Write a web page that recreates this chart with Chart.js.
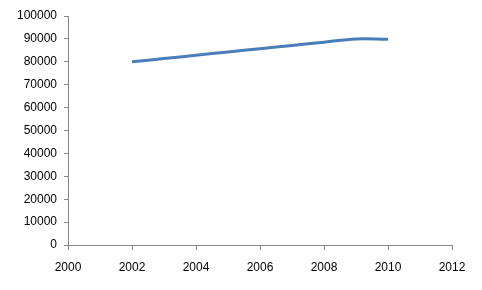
<!DOCTYPE html>
<html>
<head>
<meta charset="utf-8">
<script src="https://cdn.jsdelivr.net/npm/chart.js@4/dist/chart.umd.min.js"></script>
<style>
  html, body { margin: 0; padding: 0; background: #fff; }
  #wrap { width: 482px; height: 290px; }
</style>
</head>
<body>
<div id="wrap"><canvas id="lineChart"></canvas></div>
<script>
// Values
const years = [2002, 2003, 2004, 2005, 2006, 2007, 2008, 2009, 2010];
const values = [80000, 81430, 82860, 84290, 85710, 87140, 88570, 90000, 89800];
const xTicks = [2000, 2002, 2004, 2006, 2008, 2010, 2012];
const yTicks = [0, 10000, 20000, 30000, 40000, 50000, 60000, 70000, 80000, 90000, 100000];

const axisColor = '#868686';
const labelFont = { family: 'Liberation Sans', size: 12 };

const ctx = document.getElementById('lineChart');
new Chart(ctx, {
    type: 'line',
    data: {
        datasets: [{
            data: years.map((y, i) => ({ x: y, y: values[i] })),
            borderColor: '#4a7ebb',
            borderWidth: 3,
            pointRadius: 0,
            tension: 0.4,
            fill: false
        }]
    },
    options: {
        responsive: true,
        maintainAspectRatio: false,
        animation: false,
        layout: { padding: { top: 16, right: 30, left: 0, bottom: 0 } },
        plugins: {
            legend: { display: false },
            tooltip: { enabled: false }
        },
        scales: {
            x: {
                type: 'linear',
                min: xTicks[0],
                max: xTicks[xTicks.length - 1],
                afterBuildTicks: scale => { scale.ticks = xTicks.map(v => ({ value: v })); },
                afterFit: scale => { scale.height = 45; },
                border: { color: axisColor, width: 1 },
                grid: { drawOnChartArea: false, color: axisColor, tickLength: 5 },
                ticks: {
                    color: '#000',
                    font: labelFont,
                    padding: 10,
                    maxRotation: 0,
                    callback: v => String(v)
                }
            },
            y: {
                min: yTicks[0],
                max: yTicks[yTicks.length - 1],
                afterBuildTicks: scale => { scale.ticks = yTicks.map(v => ({ value: v })); },
                afterFit: scale => { scale.width = 68; },
                border: { color: axisColor, width: 1 },
                grid: { drawOnChartArea: false, color: axisColor, tickLength: 4 },
                ticks: {
                    color: '#000',
                    font: labelFont,
                    padding: 7,
                    callback: v => String(v)
                }
            }
        }
    }
});
</script>
</body>
</html>
